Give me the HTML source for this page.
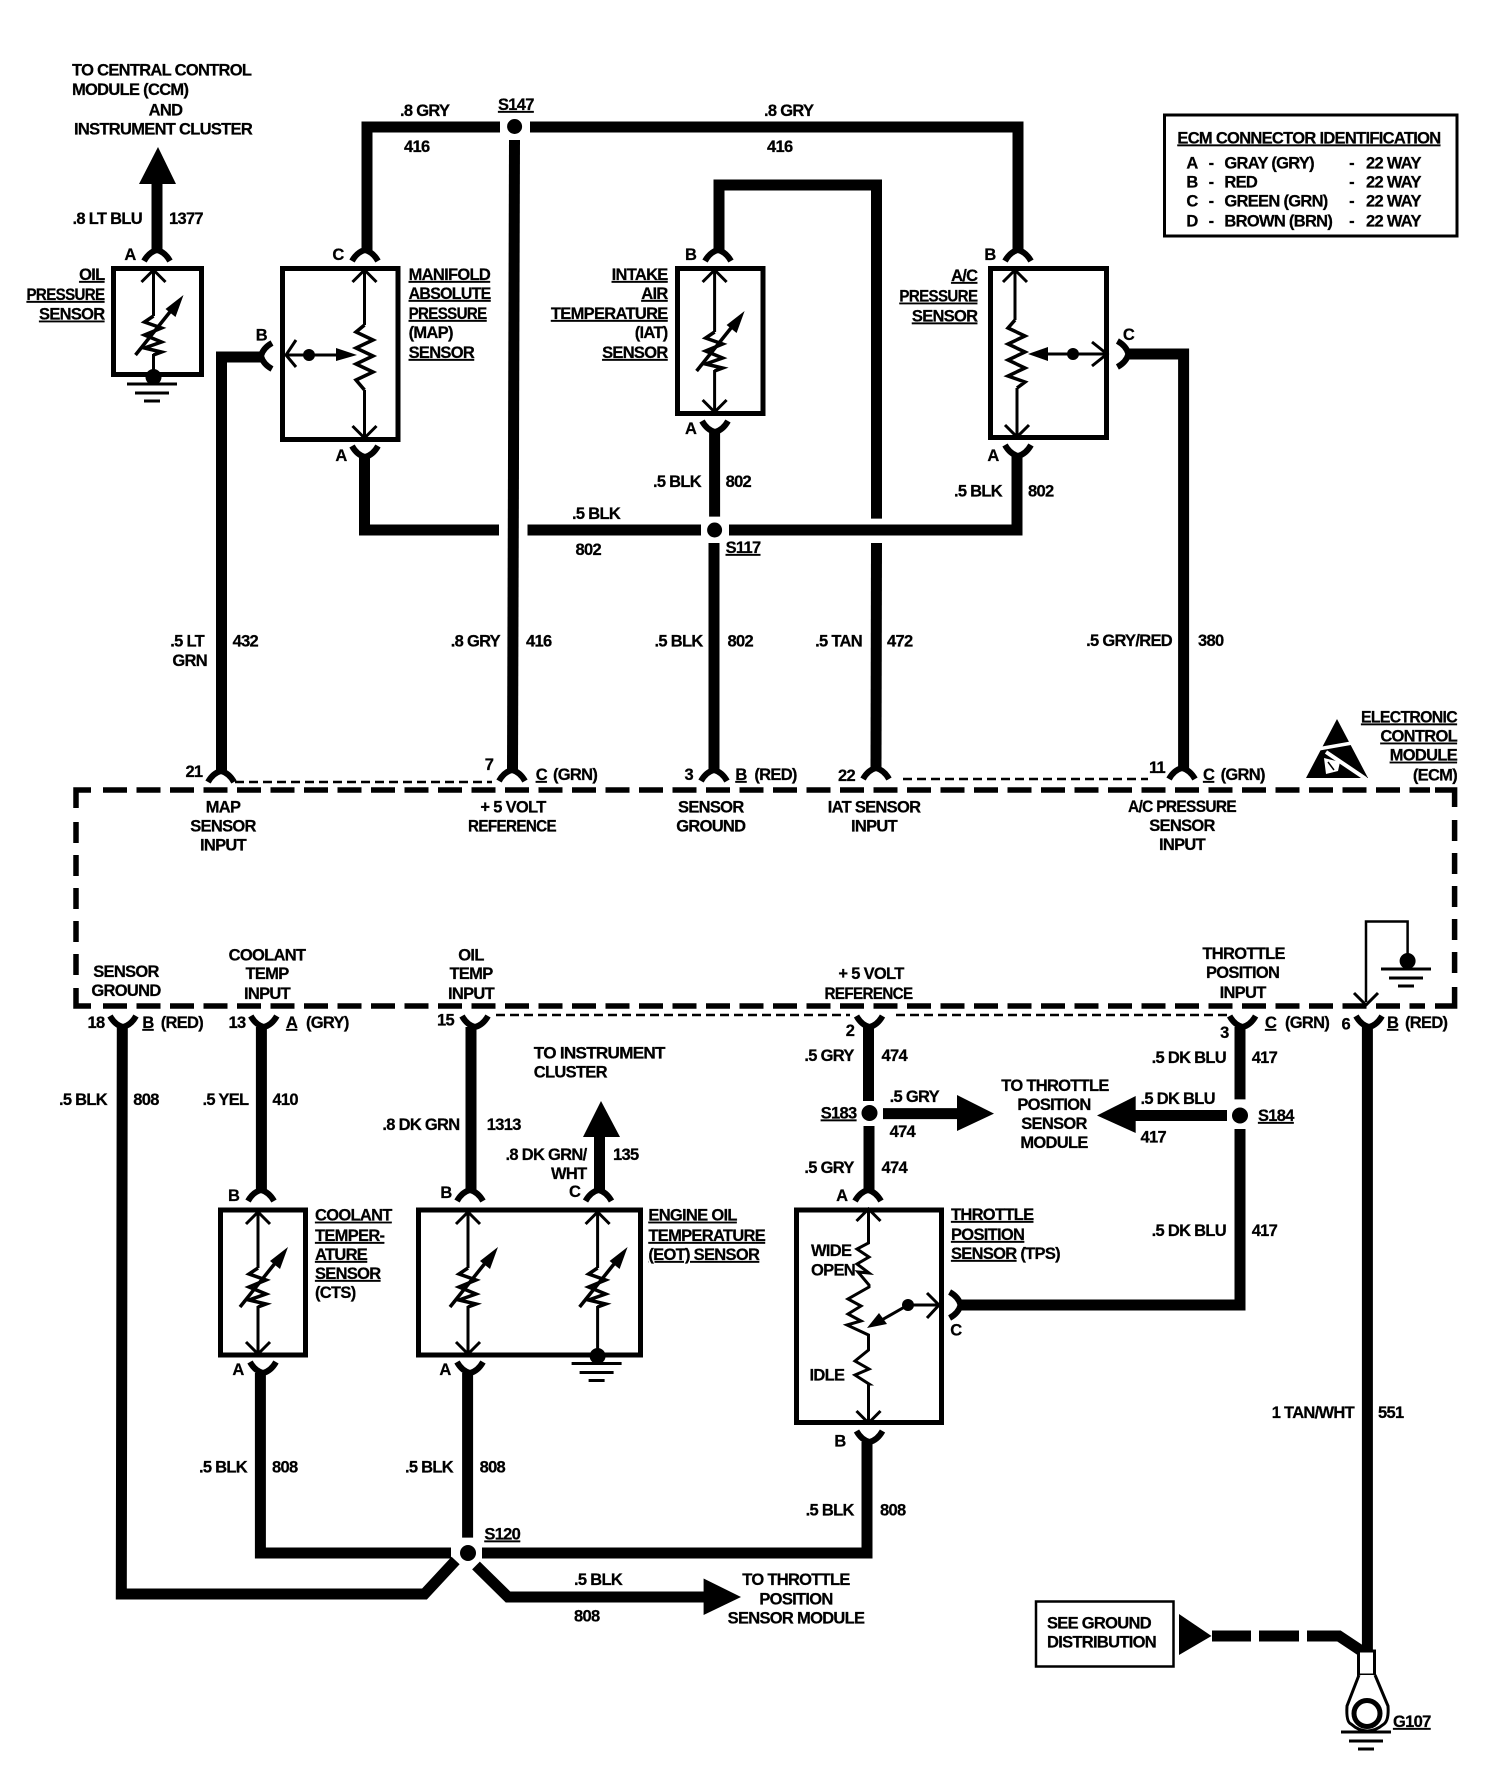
<!DOCTYPE html>
<html><head><meta charset="utf-8"><style>
html,body{margin:0;padding:0;background:#fff}
svg{display:block}
text{font-family:"Liberation Sans",sans-serif;font-weight:bold;font-size:16.5px;letter-spacing:-.7px;fill:#000;stroke:#000;stroke-width:.25}
.e{text-anchor:end}.m{text-anchor:middle}.u{text-decoration:underline}
.w{fill:none;stroke:#000;stroke-width:11}
.t{fill:none;stroke:#000;stroke-width:3}
.b{fill:none;stroke:#000;stroke-width:5}
.d{fill:none;stroke:#000;stroke-width:5.5}
.dh{stroke-dasharray:24 9.5}
.dv{stroke-dasharray:21 12}
.n{fill:none;stroke:#000;stroke-width:2.5;stroke-dasharray:9 5}
.g{stroke:#000;stroke-width:3}
</style></head><body>
<svg xmlns="http://www.w3.org/2000/svg" width="1504" height="1774" viewBox="0 0 1504 1774">
<defs>
<path id="fk" d="M-13,11 Q-8,2 0,0 Q8,2 13,11" fill="none" stroke="#000" stroke-width="6"/>
<g id="ch"><polyline points="-12,12 0,0 12,12" fill="none" stroke="#000" stroke-width="3"/></g>
<g id="vr"><polyline points="0,-19 -9,-13 8,-7 -9,0 8,7 -9,13 8,17 0,20" fill="none" stroke="#000" stroke-width="3.5"/><line x1="-18" y1="20" x2="22" y2="-30" stroke="#000" stroke-width="3.5"/><polygon points="30,-40 12,-26 22,-18" fill="#000"/></g>
<g id="gr"><line class="g" x1="-25" x2="25" y1="0" y2="0"/><line class="g" x1="-17" x2="17" y1="9" y2="9"/><line class="g" x1="-8" x2="8" y1="17" y2="17"/></g>
</defs>
<rect width="1504" height="1774" fill="#fff"/>

<!-- thick wires -->
<path class="w" d="M157,184V250"/>
<path class="w" d="M367,250V127H500"/>
<path class="w" d="M530,127H1018V250"/>
<path class="w" d="M514.5,140L512.5,770"/>
<path class="w" d="M364.5,457V530H499"/>
<path class="w" d="M527.5,530H701"/>
<path class="w" d="M729,530H1017V456"/>
<path class="w" d="M719,250V185H876.5V518.6"/>
<path class="w" d="M876.5,543L876,768"/>
<path class="w" d="M714.6,432V516.6"/>
<path class="w" d="M714,543V770"/>
<path class="w" d="M261,357H221.5V771"/>
<path class="w" d="M1128,354H1183.6V768"/>
<path class="w" d="M122.3,1027L121.3,1594H424.5L455.6,1560.5"/>
<path class="w" d="M261.4,1027V1190"/>
<path class="w" d="M471,1027V1190"/>
<path class="w" d="M599.5,1137V1190"/>
<path class="w" d="M260.4,1373V1553H451"/>
<path class="w" d="M467.6,1373V1537.6"/>
<path class="w" d="M482,1553H867V1442"/>
<path class="w" d="M476,1565.5L508,1597H705"/>
<path class="w" d="M868.5,1027V1101"/>
<path class="w" d="M869,1126V1190"/>
<path class="w" d="M883,1113.6H958"/>
<path class="w" d="M1135,1115.5H1227"/>
<path class="w" d="M1240,1027V1099.4"/>
<path class="w" d="M1240,1129V1305H960"/>
<path class="w" d="M1367.4,1027V1650"/>
<path class="w" d="M1212,1636H1251"/>
<path class="w" d="M1259,1636H1299"/>
<path class="w" d="M1307,1636H1339L1363,1652"/>

<!-- arrows -->
<polygon points="158,147 176,184 139,184"/>
<polygon points="601,1101 620,1137 583,1137"/>
<polygon points="994,1113.6 957,1095 957,1131"/>
<polygon points="1097,1115.5 1135.7,1096 1135.7,1133"/>
<polygon points="741,1597 703.6,1578.5 703.6,1615"/>
<polygon points="1179,1614 1179,1655 1211.5,1636"/>

<!-- splices -->
<circle cx="514.6" cy="126.5" r="7.5"/>
<circle cx="714.6" cy="530" r="7.5"/>
<circle cx="468" cy="1553" r="8"/>
<circle cx="869.5" cy="1113" r="8"/>
<circle cx="1240" cy="1115.5" r="8"/>

<!-- forks -->
<use href="#fk" x="157" y="250"/>
<use href="#fk" x="365" y="250"/>
<use href="#fk" x="718" y="250"/>
<use href="#fk" x="1018" y="250"/>
<use href="#fk" x="221" y="771"/>
<use href="#fk" x="512" y="770"/>
<use href="#fk" x="714" y="770"/>
<use href="#fk" x="876" y="768"/>
<use href="#fk" x="1182" y="768"/>
<use href="#fk" x="261" y="1190"/>
<use href="#fk" x="470" y="1190"/>
<use href="#fk" x="598.5" y="1190"/>
<use href="#fk" x="868" y="1190"/>
<use href="#fk" transform="translate(365,457) rotate(180)"/>
<use href="#fk" transform="translate(715,432) rotate(180)"/>
<use href="#fk" transform="translate(1018,456) rotate(180)"/>
<use href="#fk" transform="translate(123,1027) rotate(180)"/>
<use href="#fk" transform="translate(263.8,1027) rotate(180)"/>
<use href="#fk" transform="translate(475,1027) rotate(180)"/>
<use href="#fk" transform="translate(869.5,1027) rotate(180)"/>
<use href="#fk" transform="translate(1242.6,1027) rotate(180)"/>
<use href="#fk" transform="translate(1369,1027) rotate(180)"/>
<use href="#fk" transform="translate(263,1373) rotate(180)"/>
<use href="#fk" transform="translate(470,1373) rotate(180)"/>
<use href="#fk" transform="translate(869.5,1442) rotate(180)"/>
<use href="#fk" transform="translate(261,356) rotate(-90)"/>
<use href="#fk" transform="translate(1128.4,354) rotate(90)"/>
<use href="#fk" transform="translate(960.6,1305) rotate(90)"/>

<!-- sensor boxes -->
<rect class="b" x="113.5" y="268.5" width="88" height="106"/>
<rect class="b" x="282.5" y="268.5" width="115.5" height="171"/>
<rect class="b" x="677.5" y="268.5" width="85.5" height="145"/>
<rect class="b" x="990.5" y="268.5" width="116" height="169"/>
<rect class="b" x="220.5" y="1210" width="85" height="145"/>
<rect class="b" x="418.5" y="1210" width="222" height="145"/>
<rect class="b" x="796.5" y="1210" width="145" height="212.5"/>

<!-- oil internals -->
<line class="t" x1="153.5" y1="270" x2="153.5" y2="316"/>
<line class="t" x1="153.5" y1="354" x2="153.5" y2="377"/>
<use href="#ch" x="153.5" y="270"/>
<use href="#vr" x="153.5" y="335"/>
<circle cx="153.5" cy="377" r="8"/>
<use href="#gr" x="152" y="384"/>

<!-- MAP internals -->
<line class="t" x1="364.5" y1="270" x2="364.5" y2="325"/>
<line class="t" x1="364.5" y1="390" x2="364.5" y2="438"/>
<polyline points="364.5,325 356,332 373,340 356,348 373,356 356,364 373,372 356,380 364.5,390" fill="none" stroke="#000" stroke-width="3.5"/>
<use href="#ch" x="364.5" y="270"/>
<use href="#ch" transform="translate(364.5,438) rotate(180)"/>
<line class="t" x1="286" y1="355" x2="340" y2="355"/>
<polyline points="296,340 286,355 296,367" fill="none" stroke="#000" stroke-width="3"/>
<circle cx="309" cy="355" r="6"/>
<polygon points="357,355 336,348 336,361"/>

<!-- IAT internals -->
<line class="t" x1="714.6" y1="270" x2="714.6" y2="332"/>
<line class="t" x1="714.6" y1="370" x2="714.6" y2="412"/>
<use href="#ch" x="714.6" y="270"/>
<use href="#ch" transform="translate(714.6,412) rotate(180)"/>
<use href="#vr" x="714.6" y="351"/>

<!-- A/C internals -->
<line class="t" x1="1015" y1="270" x2="1015" y2="320"/>
<line class="t" x1="1017" y1="388" x2="1017" y2="437"/>
<polyline points="1015,320 1008,328 1025,336 1008,344 1025,352 1008,360 1025,368 1008,376 1025,382 1017,388" fill="none" stroke="#000" stroke-width="3.5"/>
<use href="#ch" x="1015" y="270"/>
<use href="#ch" transform="translate(1017,437) rotate(180)"/>
<line class="t" x1="1045" y1="354" x2="1107" y2="354"/>
<polygon points="1028,354 1048,347 1048,361"/>
<circle cx="1073" cy="354" r="6"/>
<polyline points="1092,342 1107,354 1092,366" fill="none" stroke="#000" stroke-width="3"/>

<!-- CTS internals -->
<line class="t" x1="258" y1="1212" x2="258" y2="1268"/>
<line class="t" x1="258" y1="1306" x2="258" y2="1354"/>
<use href="#ch" x="258" y="1212"/>
<use href="#ch" transform="translate(258,1354) rotate(180)"/>
<use href="#vr" x="258" y="1287"/>

<!-- EOT internals -->
<line class="t" x1="468" y1="1212" x2="468" y2="1268"/>
<line class="t" x1="468" y1="1306" x2="468" y2="1354"/>
<use href="#ch" x="468" y="1212"/>
<use href="#ch" transform="translate(468,1354) rotate(180)"/>
<use href="#vr" x="468" y="1287"/>
<line class="t" x1="597.6" y1="1212" x2="597.6" y2="1268"/>
<line class="t" x1="597.6" y1="1306" x2="597.6" y2="1354"/>
<use href="#ch" x="597.6" y="1212"/>
<use href="#vr" x="597.6" y="1287"/>
<circle cx="597.6" cy="1356" r="8"/>
<use href="#gr" x="596.6" y="1363.5"/>

<!-- TPS internals -->
<polyline points="868.5,1209 868.5,1243 857,1249 869,1257 857,1264 869,1273 858,1272 869,1285 869,1287 848,1299 861,1306 848,1314 861,1321 847,1325 868.5,1335 868.5,1350 855,1361 869,1369 855,1375 869,1384 868.5,1384 868.5,1423" fill="none" stroke="#000" stroke-width="3"/>
<use href="#ch" x="868.5" y="1209"/>
<use href="#ch" transform="translate(868.5,1423) rotate(180)"/>
<line class="t" x1="908" y1="1305" x2="939" y2="1305"/>
<polyline points="927,1293 939,1305 927,1318" fill="none" stroke="#000" stroke-width="3"/>
<circle cx="908" cy="1305" r="6"/>
<line class="t" x1="908" y1="1305" x2="880" y2="1321"/>
<polygon points="867,1328 879,1313 887,1324"/>

<!-- ECM dashed box -->
<path class="d" d="M76,808V790H91"/>
<path class="d" d="M1435,790H1454.6V807"/>
<path class="d" d="M76,988V1006H91"/>
<path class="d" d="M1454.6,987V1006H1435"/>
<path class="d dh" d="M103,790H1430"/>
<path class="d dh" d="M103,1006H1425"/>
<path class="d dv" d="M76,822V977"/>
<path class="d dv" d="M1454.6,820V975"/>
<path class="n" d="M235,782H492"/>
<path class="n" d="M903,779H1148"/>
<path class="n" d="M496,1015H850"/>
<path class="n" d="M896,1015H1227"/>

<!-- ECM internal ground -->
<polyline points="1366,1002 1366,921.5 1407.6,921.5 1407.6,956" fill="none" stroke="#000" stroke-width="2.5"/>
<polyline points="1354,993 1366,1005 1378,993" fill="none" stroke="#000" stroke-width="3"/>
<circle cx="1407.6" cy="961" r="8"/>
<use href="#gr" x="1406" y="969"/>

<!-- ESD icon -->
<polygon points="1306,778 1337,719 1368,778"/>
<line x1="1318" y1="749" x2="1352" y2="743" stroke="#fff" stroke-width="3.5"/>
<line x1="1326" y1="752" x2="1366" y2="779" stroke="#fff" stroke-width="4"/>
<polygon points="1324,758 1340,762 1338,771 1326,774" fill="#fff"/>
<line x1="1328" y1="762" x2="1334" y2="770" stroke="#000" stroke-width="1.5"/>

<!-- ECM id table -->
<rect x="1164.5" y="115" width="292.5" height="121" fill="none" stroke="#000" stroke-width="3"/>

<!-- see ground box -->
<rect x="1036" y="1601.5" width="137.5" height="65" fill="none" stroke="#000" stroke-width="2.5"/>

<!-- ring terminal -->
<rect x="1358.5" y="1651" width="16" height="24" fill="#fff" stroke="#000" stroke-width="3"/>
<path d="M1359,1675 L1347,1706 Q1346,1722 1351,1724 Q1367,1738 1384,1724 Q1389,1720 1388,1706 L1375,1675" fill="#fff" stroke="#000" stroke-width="3"/>
<ellipse cx="1367" cy="1713.5" rx="13" ry="13" fill="#fff" stroke="#000" stroke-width="5"/>
<use href="#gr" x="1366" y="1732"/>

<!-- labels: top-left -->
<text x="72" y="75.4">TO CENTRAL CONTROL</text>
<text x="72" y="95">MODULE (CCM)</text>
<text class="m" x="165.5" y="115.6">AND</text>
<text x="74" y="134.7">INSTRUMENT CLUSTER</text>
<text class="e" x="142" y="224">.8 LT BLU</text>
<text x="169" y="224">1377</text>
<text class="m" x="130" y="260">A</text>
<text class="e u" x="104.5" y="280">OIL</text>
<text class="e u" x="104.5" y="300" textLength="78" lengthAdjust="spacingAndGlyphs">PRESSURE</text>
<text class="e u" x="104.5" y="319.6">SENSOR</text>
<text x="400" y="116">.8 GRY</text>
<text class="u" x="498" y="110">S147</text>
<text x="404" y="152">416</text>
<text class="m" x="338" y="260">C</text>
<text class="u" x="408.6" y="280">MANIFOLD</text>
<text class="u" x="408.6" y="299" textLength="82" lengthAdjust="spacingAndGlyphs">ABSOLUTE</text>
<text class="u" x="408.6" y="319" textLength="78" lengthAdjust="spacingAndGlyphs">PRESSURE</text>
<text x="408.6" y="338">(MAP)</text>
<text class="u" x="408.6" y="358">SENSOR</text>
<text class="m" x="261.4" y="340.6">B</text>
<text class="m" x="341" y="461">A</text>
<text class="e u" x="667.6" y="280">INTAKE</text>
<text class="e u" x="667.6" y="299">AIR</text>
<text class="e u" x="667.6" y="319">TEMPERATURE</text>
<text class="e" x="667.6" y="338">(IAT)</text>
<text class="e u" x="667.6" y="358">SENSOR</text>
<text class="m" x="690.6" y="260">B</text>
<text class="m" x="690.6" y="434">A</text>
<text class="e" x="701" y="487">.5 BLK</text>
<text x="725.6" y="487">802</text>
<text x="572" y="519">.5 BLK</text>
<text x="575.5" y="555">802</text>
<text class="u" x="725.6" y="553">S117</text>

<!-- labels: A/C -->
<text x="764" y="116">.8 GRY</text>
<text x="767" y="152">416</text>
<text class="m" x="990" y="260">B</text>
<text class="m" x="993" y="461">A</text>
<text class="m" x="1128.5" y="340">C</text>
<text class="e u" x="977.4" y="281">A/C</text>
<text class="e u" x="977.4" y="301.6" textLength="78" lengthAdjust="spacingAndGlyphs">PRESSURE</text>
<text class="e u" x="977.4" y="321.5">SENSOR</text>
<text class="e" x="1002" y="496.7">.5 BLK</text>
<text x="1028" y="496.7">802</text>

<!-- table text -->
<text class="u" x="1177.4" y="143.5">ECM CONNECTOR IDENTIFICATION</text>
<text class="m" x="1192" y="168.4">A</text><text class="m" x="1211" y="168.4">-</text><text x="1224.4" y="168.4">GRAY (GRY)</text><text class="m" x="1351.5" y="168.4">-</text><text x="1366" y="168.4">22 WAY</text>
<text class="m" x="1192" y="187.5">B</text><text class="m" x="1211" y="187.5">-</text><text x="1224.4" y="187.5">RED</text><text class="m" x="1351.5" y="187.5">-</text><text x="1366" y="187.5">22 WAY</text>
<text class="m" x="1192" y="206.6">C</text><text class="m" x="1211" y="206.6">-</text><text x="1224.4" y="206.6">GREEN (GRN)</text><text class="m" x="1351.5" y="206.6">-</text><text x="1366" y="206.6">22 WAY</text>
<text class="m" x="1192" y="226.6">D</text><text class="m" x="1211" y="226.6">-</text><text x="1224.4" y="226.6">BROWN (BRN)</text><text class="m" x="1351.5" y="226.6">-</text><text x="1366" y="226.6">22 WAY</text>

<!-- wire labels mid -->
<text class="e" x="204" y="646.7">.5 LT</text>
<text class="e" x="207" y="666">GRN</text>
<text x="232.6" y="646.7">432</text>
<text class="e" x="500" y="646.7">.8 GRY</text>
<text x="526" y="646.7">416</text>
<text class="e" x="702.6" y="646.7">.5 BLK</text>
<text x="727.5" y="646.7">802</text>
<text class="e" x="862" y="646.7">.5 TAN</text>
<text x="887" y="646.7">472</text>
<text class="e" x="1172" y="646">.5 GRY/RED</text>
<text x="1198" y="646">380</text>

<!-- ECM top pins -->
<text class="e" x="202.4" y="776.8">21</text>
<text class="m" x="489" y="770">7</text>
<text class="u" x="535.7" y="780">C</text>
<text x="553" y="780">(GRN)</text>
<text class="m" x="688.7" y="780">3</text>
<text class="u m" x="741" y="780">B</text>
<text x="754.4" y="780">(RED)</text>
<text class="e" x="855" y="781">22</text>
<text class="m" x="1157" y="773">11</text>
<text class="u" x="1203" y="780">C</text>
<text x="1220.6" y="780">(GRN)</text>
<text class="e u" x="1457" y="722.5" textLength="96" lengthAdjust="spacingAndGlyphs">ELECTRONIC</text>
<text class="e u" x="1457" y="741.6">CONTROL</text>
<text class="e u" x="1457" y="760.7">MODULE</text>
<text class="e" x="1457" y="780.6">(ECM)</text>

<!-- ECM inner text -->
<text class="m" x="223" y="812.4">MAP</text>
<text class="m" x="223" y="831.5">SENSOR</text>
<text class="m" x="223" y="850.7">INPUT</text>
<text class="m" x="513" y="812.4">+ 5 VOLT</text>
<text class="m" x="512" y="831.5" textLength="88" lengthAdjust="spacingAndGlyphs">REFERENCE</text>
<text class="m" x="710.8" y="812.4">SENSOR</text>
<text class="m" x="710.8" y="831.5">GROUND</text>
<text class="m" x="874" y="812.4">IAT SENSOR</text>
<text class="m" x="874" y="831.5">INPUT</text>
<text class="m" x="1182" y="812" textLength="108" lengthAdjust="spacingAndGlyphs">A/C PRESSURE</text>
<text class="m" x="1182" y="831">SENSOR</text>
<text class="m" x="1182" y="850">INPUT</text>
<text class="m" x="126" y="977">SENSOR</text>
<text class="m" x="126" y="996">GROUND</text>
<text class="m" x="267" y="960.5">COOLANT</text>
<text class="m" x="267" y="979">TEMP</text>
<text class="m" x="267" y="999">INPUT</text>
<text class="m" x="471" y="960.5">OIL</text>
<text class="m" x="471" y="979">TEMP</text>
<text class="m" x="471" y="999">INPUT</text>
<text class="m" x="871" y="979">+ 5 VOLT</text>
<text class="m" x="868.5" y="999" textLength="88" lengthAdjust="spacingAndGlyphs">REFERENCE</text>
<text class="m" x="1243.6" y="959">THROTTLE</text>
<text class="m" x="1242.6" y="978">POSITION</text>
<text class="m" x="1242.6" y="998">INPUT</text>

<!-- ECM bottom pins -->
<text class="e" x="104.5" y="1028">18</text>
<text class="u" x="142.4" y="1028">B</text>
<text x="160.7" y="1028">(RED)</text>
<text class="e" x="245.5" y="1028">13</text>
<text class="u" x="286" y="1028">A</text>
<text x="306" y="1028">(GRY)</text>
<text class="e" x="454" y="1025.6">15</text>
<text class="m" x="850" y="1036">2</text>
<text class="m" x="1224.4" y="1038">3</text>
<text class="u" x="1265" y="1028">C</text>
<text x="1285" y="1028">(GRN)</text>
<text class="m" x="1345.7" y="1029.4">6</text>
<text class="u" x="1387" y="1028">B</text>
<text x="1405" y="1028">(RED)</text>

<!-- lower wire labels -->
<text class="e" x="107" y="1105">.5 BLK</text>
<text x="133.3" y="1105">808</text>
<text class="e" x="248.4" y="1105">.5 YEL</text>
<text x="272.4" y="1105">410</text>
<text class="e" x="459.5" y="1130">.8 DK GRN</text>
<text x="486.8" y="1130">1313</text>
<text x="533.8" y="1058.5" textLength="131" lengthAdjust="spacingAndGlyphs">TO INSTRUMENT</text>
<text x="533.8" y="1077.6">CLUSTER</text>
<text class="e" x="586.5" y="1160">.8 DK GRN/</text>
<text class="e" x="586.5" y="1179">WHT</text>
<text x="613" y="1160">135</text>
<text class="m" x="233.6" y="1200.8">B</text>
<text class="m" x="446" y="1198">B</text>
<text class="m" x="574.6" y="1197">C</text>
<text class="e" x="853.7" y="1061">.5 GRY</text>
<text x="881.5" y="1061">474</text>
<text class="e u" x="856.5" y="1118.5">S183</text>
<text x="889.6" y="1102">.5 GRY</text>
<text x="889.6" y="1137">474</text>
<text class="e" x="853.7" y="1173">.5 GRY</text>
<text x="881.5" y="1173">474</text>
<text class="m" x="841.7" y="1200.8">A</text>
<text class="m" x="1055" y="1091">TO THROTTLE</text>
<text class="m" x="1054" y="1110">POSITION</text>
<text class="m" x="1054" y="1129">SENSOR</text>
<text class="m" x="1054" y="1148">MODULE</text>
<text x="1140.5" y="1104">.5 DK BLU</text>
<text x="1140.5" y="1142.6">417</text>
<text class="u" x="1258" y="1121">S184</text>
<text class="e" x="1226" y="1063">.5 DK BLU</text>
<text x="1251.7" y="1063">417</text>
<text class="e" x="1226" y="1236">.5 DK BLU</text>
<text x="1251.7" y="1236">417</text>

<!-- sensor labels lower -->
<text class="u" x="315" y="1220.7">COOLANT</text>
<text class="u" x="315" y="1241">TEMPER-</text>
<text class="u" x="315" y="1260">ATURE</text>
<text class="u" x="315" y="1279">SENSOR</text>
<text x="315" y="1298">(CTS)</text>
<text class="u" x="648.4" y="1220.7">ENGINE OIL</text>
<text class="u" x="648.4" y="1241">TEMPERATURE</text>
<text class="u" x="648.4" y="1260">(EOT) SENSOR</text>
<text class="u" x="951" y="1220">THROTTLE</text>
<text class="u" x="951" y="1240">POSITION</text>
<text x="951" y="1259"><tspan class="u">SENSOR</tspan> (TPS)</text>
<text x="811" y="1256">WIDE</text>
<text x="811" y="1275.4">OPEN</text>
<text x="809.5" y="1380.7">IDLE</text>
<text class="m" x="955.8" y="1335.5">C</text>
<text class="m" x="840" y="1446.5">B</text>
<text class="m" x="238" y="1375">A</text>
<text class="m" x="445" y="1375">A</text>
<text class="e" x="247" y="1472.5">.5 BLK</text>
<text x="272" y="1472.5">808</text>
<text class="e" x="453" y="1472.5">.5 BLK</text>
<text x="479.6" y="1472.5">808</text>
<text class="e" x="853.7" y="1515.7">.5 BLK</text>
<text x="880" y="1515.7">808</text>
<text class="u" x="484.4" y="1539.5">S120</text>
<text x="574" y="1585">.5 BLK</text>
<text x="574" y="1621.7">808</text>
<text class="m" x="796" y="1585">TO THROTTLE</text>
<text class="m" x="796" y="1604.5">POSITION</text>
<text class="m" x="796" y="1623.7">SENSOR MODULE</text>
<text class="e" x="1354" y="1417.8">1 TAN/WHT</text>
<text x="1378" y="1417.8">551</text>
<text x="1047" y="1628.6">SEE GROUND</text>
<text x="1047" y="1647.7">DISTRIBUTION</text>
<text class="u" x="1393" y="1727">G107</text>
</svg>
</body></html>
